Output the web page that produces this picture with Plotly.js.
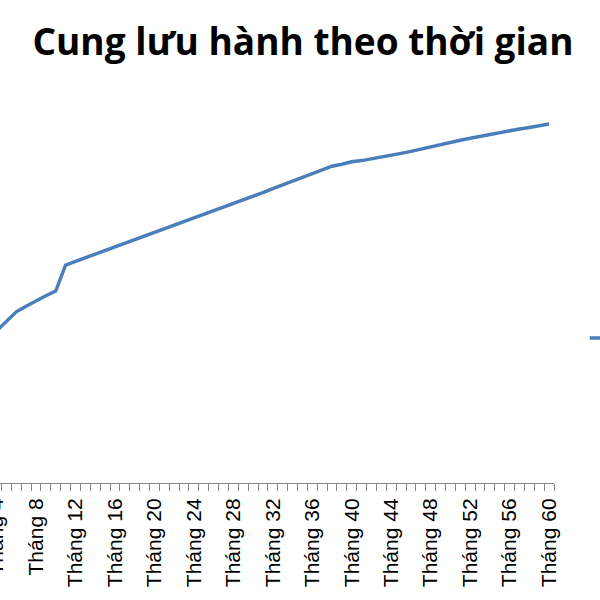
<!DOCTYPE html>
<html>
<head>
<meta charset="utf-8">
<script src="https://cdn.plot.ly/plotly-3.0.1.min.js"></script>
<style>
html,body{margin:0;padding:0;background:#fff;overflow:hidden;width:600px;height:600px;}
#chart{position:absolute;left:-60px;top:0;width:760px;height:600px;}
</style>
</head>
<body>
<div id="chart"></div>
<script>
const chartTitle = "Cung lưu hành theo thời gian";
const seriesName = "Cung lưu hành";
const months = [1,2,3,4,5,6,7,8,9,10,11,12,13,14,15,16,17,18,19,20,21,22,23,24,25,26,27,28,29,30,
                31,32,33,34,35,36,37,38,39,40,41,42,43,44,45,46,47,48,49,50,51,52,53,54,55,56,57,58,59,60];
const supply = [30.8,33.2,35.8,38.0,40.5,42.8,44.2,45.6,46.8,48.0,54.5,55.4,56.3,57.2,58.1,59.0,59.8,60.7,61.6,62.5,
                63.4,64.3,65.2,66.2,67.1,68.0,68.9,69.8,70.8,71.7,72.6,73.6,74.5,75.5,76.4,77.3,78.3,79.2,79.7,80.3,
                80.6,81.0,81.4,81.9,82.4,82.9,83.5,84.1,84.7,85.2,85.7,86.2,86.7,87.2,87.6,88.1,88.5,88.9,89.3,89.75];
const tickMonths = [4,8,12,16,20,24,28,32,36,40,44,48,52,56,60];
const tickLabels = ["Tháng 4","Tháng 8","Tháng 12","Tháng 16","Tháng 20","Tháng 24","Tháng 28","Tháng 32",
                    "Tháng 36","Tháng 40","Tháng 44","Tháng 48","Tháng 52","Tháng 56","Tháng 60"];

const trace = {
  x: months, y: supply, type: 'scatter', mode: 'lines', name: seriesName,
  line: {color: '#4a7ebb', width: 3.5}
};
const layout = {
  width: 760, height: 600,
  margin: {l: 22, r: 146, t: 83, b: 117, pad: 0, autoexpand: false},
  paper_bgcolor: '#ffffff', plot_bgcolor: '#ffffff',
  title: {text: '<b>' + chartTitle + '</b>', x: 0.4776, xanchor: 'center', xref: 'container',
          y: 0.93, yanchor: 'middle', yref: 'container',
          font: {family: 'Open Sans, sans-serif', size: 37, color: '#000'}},
  showlegend: true,
  legend: {x: 1.052, xanchor: 'left', y: 0.3625, yanchor: 'middle',
           font: {family: 'Liberation Sans, Arial', size: 20, color: '#000'}, bgcolor: 'rgba(0,0,0,0)'},
  xaxis: {
    type: 'linear', range: [0.5, 60.5], automargin: false,
    tickmode: 'array', tickvals: tickMonths, ticktext: tickLabels, tickangle: -90,
    ticks: '', showgrid: false, zeroline: false, ticklabelstandoff: 6,
    showline: true, linecolor: '#868686', linewidth: 1,
    tickfont: {family: 'Liberation Sans, Arial', size: 21, color: '#000'},
    minor: {tickmode: 'linear', tick0: 0.5, dtick: 1, ticks: 'outside', ticklen: 7, tickcolor: '#868686', tickwidth: 1, showgrid: false}
  },
  yaxis: {range: [0, 100], visible: false, showgrid: false, zeroline: false, automargin: false}
};
Plotly.newPlot('chart', [trace], layout, {displayModeBar: false, staticPlot: true});
</script>
</body>
</html>
